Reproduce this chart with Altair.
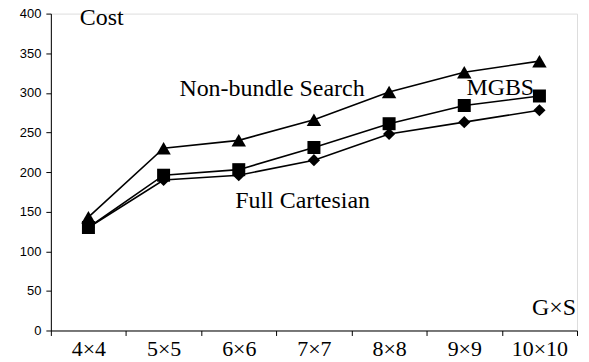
import altair as alt
import pandas as pd

categories = ["4×4", "5×5", "6×6", "7×7", "8×8", "9×9", "10×10"]
non_bundle = [143, 230, 240, 266, 301, 326, 340]
mgbs = [130, 196, 203, 231, 261, 284, 296]
full_cartesian = [130, 190, 196, 215, 248, 263, 278]

series_names = ["Non-bundle Search", "MGBS", "Full Cartesian"]
series_values = [non_bundle, mgbs, full_cartesian]
shapes = ["triangle-up", "square", "diamond"]
sizes = [210, 170, 150]

rows = []
for name, vals in zip(series_names, series_values):
    for c, v in zip(categories, vals):
        rows.append({"cat": c, "cost": v, "series": name})
df = pd.DataFrame(rows)

W, H = 528, 318
serif = "Liberation Serif"

x = alt.X("cat:N", sort=categories, title=None,
          scale=alt.Scale(paddingInner=0, paddingOuter=0),
          axis=alt.Axis(tickBand="extent", labelFont=serif, labelFontSize=22,
                        labelColor="black", labelAngle=0, labelPadding=3,
                        domainColor="black", tickColor="black", tickSize=5,
                        grid=False))
y = alt.Y("cost:Q", title=None,
          scale=alt.Scale(domain=[0, 400]),
          axis=alt.Axis(values=list(range(0, 401, 50)), labelFont="Liberation Sans",
                        labelFontSize=13, labelColor="black", labelPadding=5,
                        domainColor="black", tickColor="black", tickSize=5,
                        grid=False))

layers = []
for name, shape, sz in zip(series_names, shapes, sizes):
    base = alt.Chart(df[df.series == name])
    line = base.mark_line(color="black", strokeWidth=1.6).encode(x=x, y=y)
    pts = base.mark_point(shape=shape, filled=True, color="black", opacity=1,
                          size=sz).encode(x=x, y=y)
    layers += [line, pts]

ann_text = ["Cost", "Non-bundle Search", "MGBS", "Full Cartesian", "G×S"]
ann_x = [29, 129, 417, 185, 527]
ann_y = [11, 83, 82, 195, 302]
ann_align = ["left", "left", "left", "left", "right"]

for t, ax, ay, al in zip(ann_text, ann_x, ann_y, ann_align):
    layers.append(
        alt.Chart(pd.DataFrame({"t": [t]})).mark_text(
            font=serif, fontSize=24, color="black", align=al, baseline="alphabetic"
        ).encode(text="t:N", x=alt.value(ax), y=alt.value(ay))
    )

chart = alt.layer(*layers).properties(
    width=W, height=H,
    autosize=alt.AutoSizeParams(type="none"),
    padding={"left": 43, "top": 5, "right": 4, "bottom": 31},
).configure_view(stroke=None).configure(background="white")

chart.save("out.html", embed_options={"renderer": "svg", "actions": False})
